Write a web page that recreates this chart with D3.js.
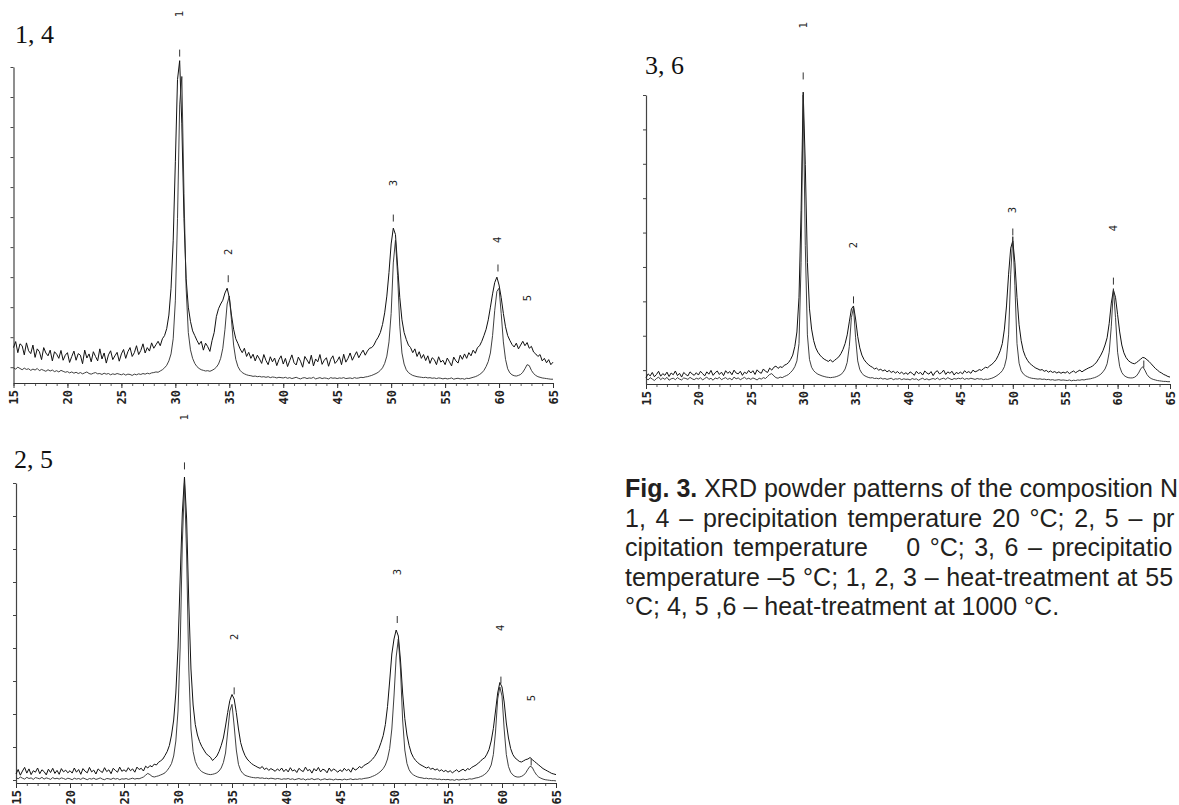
<!DOCTYPE html>
<html>
<head>
<meta charset="utf-8">
<script src="https://cdn.jsdelivr.net/npm/d3@7"></script>
<style>
  html, body { margin: 0; padding: 0; background: #fff; }
  svg { display: block; }
</style>
</head>
<body>
<svg id="fig" width="1179" height="805"></svg>
<script>
// Powder scans: 2θ from 15° to 65°, one reading every 0.2°.
// Intensities are relative counts (1000 = top of the intensity axis).
const scanStart = 15;
const scanStep = 0.2;

const xTickLabels = [15, 20, 25, 30, 35, 40, 45, 50, 55, 60, 65];
const peakNumbers = ["1", "2", "3", "4", "5"];

// Sample 1 (20 °C, 550 °C)
const pattern1 = [
  112, 131, 96, 124, 118, 89, 127, 102, 93, 120, 81, 108, 99, 74, 112, 95, 86, 104, 70, 99, 91, 78, 103, 72, 88,
  96, 65, 84, 101, 72, 93, 88, 61, 104, 79, 92, 67, 99, 84, 70, 108, 76, 95, 63, 89, 102, 74, 86, 97, 69,
  92, 106, 78, 99, 112, 84, 96, 118, 90, 103, 124, 95, 112, 101, 127, 110, 121, 132, 118, 140, 150, 172, 215, 300, 450,
  700, 960, 1020, 820, 520, 330, 240, 195, 165, 150, 135, 122, 132, 104, 126, 115, 100, 134, 160, 210, 235, 250, 262, 285, 300,
  270, 215, 170, 140, 125, 108, 96, 110, 84, 97, 78, 91, 70, 88, 76, 62, 90, 71, 58, 83, 67, 79, 55, 74, 86,
  60, 78, 52, 71, 89, 64, 57, 82, 69, 50, 84, 73, 61, 88, 54, 76, 67, 90, 59, 72, 80, 53, 75, 86, 62,
  70, 83, 58, 91, 66, 78, 95, 72, 86, 99, 80, 93, 104, 88, 101, 110, 112, 120, 134, 145, 160, 185, 222, 275, 350,
  440, 490, 470, 370, 270, 200, 160, 138, 120, 112, 96, 108, 84, 99, 78, 90, 71, 86, 62, 80, 74, 58, 83, 66, 72,
  58, 79, 67, 54, 82, 70, 63, 88, 75, 92, 78, 96, 86, 104, 94, 112, 118, 132, 150, 170, 200, 240, 282, 318, 335,
  310, 270, 220, 178, 150, 135, 122, 114, 126, 108, 120, 132, 118, 128, 110, 116, 98, 92, 84, 90, 70, 78, 64, 74, 58,
  66
];

// Sample 4 (20 °C, 1000 °C)
const pattern4 = [
  48, 44, 50, 46, 42, 47, 43, 45, 40, 44, 41, 46, 39, 43, 40, 37, 42, 38, 41, 36, 39, 35, 40, 37, 34,
  36, 32, 35, 31, 34, 30, 33, 29, 32, 35, 30, 28, 31, 33, 29, 30, 27, 31, 28, 30, 26, 29, 27, 30, 28,
  26, 29, 25, 28, 27, 24, 28, 26, 29, 27, 30, 28, 31, 29, 32, 33, 35, 34, 38, 42, 48, 56, 70, 92, 140,
  260, 520, 880, 970, 600, 300, 160, 105, 78, 62, 52, 46, 42, 40, 38, 39, 37, 40, 44, 50, 60, 78, 110, 170, 250,
  275, 200, 120, 75, 52, 40, 33, 29, 26, 24, 23, 21, 22, 20, 21, 19, 20, 18, 20, 17, 19, 18, 16, 18, 17,
  16, 18, 15, 17, 14, 16, 18, 15, 13, 16, 17, 14, 16, 15, 18, 13, 15, 17, 14, 16, 15, 13, 17, 15, 16,
  14, 16, 15, 17, 14, 15, 16, 14, 17, 15, 16, 18, 17, 19, 20, 22, 24, 27, 30, 34, 40, 48, 62, 85, 130,
  220, 380, 452, 340, 180, 95, 60, 42, 33, 28, 24, 22, 20, 19, 18, 17, 18, 16, 17, 15, 16, 14, 16, 15, 13,
  15, 13, 14, 16, 12, 14, 15, 13, 14, 12, 15, 14, 16, 18, 20, 23, 27, 32, 40, 52, 68, 95, 150, 230, 290,
  300, 220, 130, 75, 45, 32, 26, 23, 22, 24, 27, 34, 45, 58, 55, 40, 30, 24, 20, 18, 16, 15, 14, 13, 12,
  12
];

// Sample 2 (0 °C, 550 °C)
const pattern2 = [
  30, 45, 26, 40, 52, 33, 47, 28, 41, 36, 50, 31, 44, 38, 27, 46, 35, 49, 32, 42, 29, 48, 37, 43, 34,
  41, 33, 50, 36, 45, 29, 48, 39, 34, 52, 37, 43, 30, 47, 40, 35, 51, 38, 44, 31, 49, 42, 36, 53, 39,
  44, 38, 51, 41, 47, 36, 53, 45, 49, 40, 56, 50, 58, 54, 63, 60, 69, 74, 80, 92, 105, 125, 160, 210, 300,
  450, 680, 900, 1020, 880, 600, 380, 260, 195, 160, 138, 122, 110, 98, 92, 86, 75, 82, 90, 105, 125, 150, 190, 235, 275,
  295, 280, 235, 180, 135, 110, 92, 80, 72, 65, 60, 56, 52, 49, 55, 45, 50, 42, 48, 44, 39, 47, 41, 50, 38,
  46, 37, 51, 40, 44, 35, 49, 42, 38, 53, 41, 45, 33, 48, 40, 52, 37, 46, 43, 34, 50, 39, 47, 42, 36,
  44, 38, 49, 41, 46, 36, 51, 43, 47, 55, 50, 58, 62, 66, 72, 79, 88, 100, 115, 135, 158, 195, 255, 340, 430,
  480, 510, 490, 410, 300, 215, 160, 125, 100, 85, 75, 68, 62, 58, 54, 50, 53, 46, 49, 43, 47, 40, 44, 38, 42,
  36, 41, 34, 39, 44, 37, 42, 46, 40, 48, 45, 52, 56, 60, 66, 72, 80, 84, 96, 112, 140, 182, 240, 300, 335,
  320, 270, 200, 150, 115, 95, 84, 78, 72, 70, 74, 78, 80, 85, 78, 72, 66, 60, 54, 48, 44, 40, 36, 32, 30,
  28
];

// Sample 5 (0 °C, 1000 °C)
const pattern5 = [
  18, 14, 20, 16, 13, 19, 15, 17, 12, 18, 16, 14, 19, 13, 17, 15, 12, 18, 14, 16, 13, 17, 15, 12, 16,
  14, 11, 16, 13, 15, 12, 17, 14, 11, 15, 13, 16, 12, 14, 17, 13, 11, 15, 14, 12, 16, 13, 15, 11, 14,
  13, 15, 12, 14, 16, 13, 15, 14, 17, 20, 26, 32, 28, 22, 20, 22, 24, 27, 30, 34, 42, 52, 65, 90, 140,
  240, 450, 800, 1000, 760, 380, 180, 105, 72, 55, 45, 38, 34, 31, 29, 28, 29, 31, 34, 40, 50, 68, 100, 170, 240,
  262, 190, 110, 62, 42, 32, 26, 23, 21, 19, 18, 17, 18, 16, 17, 15, 16, 14, 16, 15, 13, 15, 14, 12, 14,
  13, 15, 12, 14, 11, 13, 15, 12, 14, 10, 13, 12, 15, 11, 13, 14, 10, 12, 14, 11, 13, 12, 10, 13, 11,
  12, 10, 13, 11, 12, 14, 11, 13, 12, 14, 13, 15, 16, 17, 19, 22, 25, 29, 34, 40, 48, 60, 80, 115, 180,
  290, 420, 480, 380, 210, 110, 65, 44, 33, 27, 23, 20, 18, 17, 15, 16, 14, 15, 13, 14, 12, 13, 11, 12, 11,
  12, 10, 11, 9, 12, 10, 11, 13, 11, 12, 14, 13, 15, 17, 18, 21, 24, 29, 35, 45, 60, 95, 170, 280, 320,
  290, 180, 95, 55, 36, 27, 22, 20, 20, 22, 26, 34, 46, 56, 52, 38, 27, 20, 16, 13, 11, 10, 9, 8, 8,
  7
];

// Sample 3 (–5 °C, 550 °C)
const pattern3 = [
  22, 35, 28, 40, 25, 33, 44, 27, 36, 30, 41, 26, 38, 32, 45, 29, 37, 24, 40, 33, 28, 42, 35, 30, 39,
  31, 44, 36, 28, 42, 34, 47, 30, 39, 45, 33, 41, 29, 46, 37, 43, 32, 48, 38, 35, 44, 30, 41, 36, 47,
  38, 46, 33, 49, 41, 37, 52, 44, 40, 55, 48, 58, 62, 54, 60, 57, 65, 68, 74, 85, 100, 130, 180, 300, 600,
  1010, 760, 420, 260, 190, 150, 125, 110, 100, 92, 86, 82, 78, 84, 76, 82, 88, 94, 105, 120, 140, 170, 215, 260, 270,
  225, 165, 125, 100, 85, 75, 68, 62, 58, 52, 55, 48, 51, 45, 49, 42, 47, 40, 44, 38, 43, 36, 41, 34, 39,
  33, 42, 37, 30, 44, 36, 40, 31, 45, 38, 34, 43, 29, 41, 46, 35, 39, 48, 33, 42, 37, 44, 31, 40, 36,
  41, 35, 46, 39, 43, 37, 48, 42, 45, 50, 47, 53, 58, 56, 63, 68, 75, 84, 98, 115, 140, 190, 270, 380, 470,
  495, 420, 300, 205, 150, 115, 95, 82, 72, 66, 60, 55, 52, 48, 50, 44, 47, 41, 45, 40, 43, 38, 42, 37, 41,
  38, 43, 36, 41, 45, 39, 44, 48, 42, 47, 51, 55, 58, 62, 68, 76, 88, 100, 115, 135, 160, 210, 280, 325, 300,
  240, 180, 135, 108, 92, 82, 76, 72, 70, 74, 80, 86, 92, 90, 84, 78, 70, 62, 54, 48, 42, 38, 33, 30, 26,
  24
];

// Sample 6 (–5 °C, 1000 °C)
const pattern6 = [
  20, 14, 22, 17, 12, 19, 24, 15, 21, 16, 23, 13, 18, 20, 15, 22, 17, 14, 21, 19, 16, 23, 18, 15, 20,
  17, 22, 14, 19, 24, 16, 20, 13, 21, 18, 23, 15, 19, 22, 16, 20, 14, 24, 18, 21, 15, 19, 23, 17, 20,
  16, 21, 18, 14, 20, 17, 22, 19, 26, 33, 36, 28, 22, 20, 24, 22, 26, 29, 33, 40, 48, 60, 80, 140, 420,
  1000, 480, 170, 85, 58, 46, 39, 34, 31, 28, 26, 24, 23, 22, 23, 24, 26, 29, 33, 40, 52, 75, 130, 230, 265,
  160, 80, 50, 37, 30, 26, 23, 21, 22, 19, 20, 18, 21, 17, 19, 16, 18, 20, 15, 18, 17, 19, 15, 18, 16,
  17, 14, 19, 16, 18, 13, 17, 20, 15, 18, 14, 17, 19, 16, 21, 15, 18, 20, 16, 22, 18, 15, 19, 17, 20,
  18, 21, 16, 19, 17, 20, 18, 16, 19, 17, 18, 15, 17, 16, 18, 20, 23, 27, 32, 38, 46, 60, 90, 170, 380,
  510, 340, 140, 72, 46, 35, 29, 25, 22, 20, 19, 18, 17, 18, 16, 17, 15, 16, 14, 15, 13, 14, 15, 13, 14,
  13, 12, 14, 11, 13, 12, 14, 13, 15, 14, 16, 17, 18, 20, 22, 25, 29, 34, 42, 52, 70, 110, 200, 330, 230,
  110, 60, 40, 30, 25, 22, 21, 21, 23, 28, 38, 52, 60, 48, 33, 24, 19, 16, 14, 12, 11, 10, 9, 9, 8,
  8
];

// Reflection markers: 2θ of each numbered reflection, height of its tick, height of its number
const peakAngles14 = [30.4, 34.9, 50.2, 59.9, 62.6];
const peakMarks14  = [1044, 330, 522, 364, null];
const peakText14   = [1168, 415, 633, 453, 269];

const peakAngles25 = [30.6, 35.2, 50.3, 59.9, 62.7];
const peakMarks25  = [1057, 307, 545, 343, 70];
const peakText25   = [1220, 487, 703, 517, 283];

const peakAngles36 = [30.0, 34.8, 50.0, 59.6, 62.5];
const peakMarks36  = [1066, 291, 526, 356, 69];
const peakText36   = [1242, 481, 602, 540, null];

const captionLines = [
  { bold: "Fig. 3.", text: " XRD powder patterns of the composition N", spacing: 0 },
  { bold: "", text: "1, 4 – precipitation temperature 20 °C; 2, 5 – pr", spacing: 2.8 },
  { bold: "", text: "cipitation temperature    0 °C; 3, 6 – precipitatio", spacing: 2.6 },
  { bold: "", text: "temperature –5 °C; 1, 2, 3 – heat-treatment at 55", spacing: 0.8 },
  { bold: "", text: "°C; 4, 5 ,6 – heat-treatment at 1000 °C.", spacing: 0 }
];

const panels = [
  { title: "1, 4", series: [pattern1, pattern4],
    angles: peakAngles14, marks: peakMarks14, texts: peakText14,
    left: 13.5, right: 553, bottom: 383, top: 67, yTickStep: 95,
    titleX: 15, titleY: 43 },
  { title: "2, 5", series: [pattern2, pattern5],
    angles: peakAngles25, marks: peakMarks25, texts: peakText25,
    left: 16, right: 556, bottom: 783, top: 483, yTickStep: 110,
    titleX: 14, titleY: 468 },
  { title: "3, 6", series: [pattern3, pattern6],
    angles: peakAngles36, marks: peakMarks36, texts: peakText36,
    left: 646, right: 1170, bottom: 384, top: 95, yTickStep: 119,
    titleX: 645, titleY: 74 }
];

const svg = d3.select("#fig");
svg.append("rect").attr("width", 1179).attr("height", 805).attr("fill", "#fff");

panels.forEach(p => {
  const g = svg.append("g");
  const x = d3.scaleLinear().domain([15, 65]).range([p.left, p.right]);
  const y = d3.scaleLinear().domain([0, 1000]).range([p.bottom, p.top]);

  // minor 2θ ticks every degree
  g.append("g")
    .attr("transform", `translate(0,${p.bottom})`)
    .call(d3.axisBottom(x).tickValues(d3.range(15, 66, 1)).tickSize(3).tickFormat(""))
    .call(a => a.select(".domain").remove())
    .call(a => a.selectAll("line").attr("stroke", "#333").attr("stroke-width", 0.8));

  // labelled 2θ axis
  const xa = g.append("g")
    .attr("transform", `translate(0,${p.bottom})`)
    .call(d3.axisBottom(x).tickValues(xTickLabels).tickSize(5).tickSizeOuter(0).tickFormat(d3.format("d")));
  xa.select(".domain").attr("stroke", "#333").attr("stroke-width", 1);
  xa.selectAll("line").attr("stroke", "#333");
  xa.selectAll("text")
    .attr("transform", "rotate(-90)")
    .attr("text-anchor", "end")
    .attr("x", -7).attr("y", 0).attr("dy", "0.36em")
    .attr("font-family", "'DejaVu Sans Mono', monospace")
    .attr("font-size", 12).attr("font-weight", "bold")
    .attr("fill", "#222");

  // intensity axis (unlabelled)
  const ya = g.append("g")
    .attr("transform", `translate(${p.left},0)`)
    .call(d3.axisLeft(y).tickValues(d3.range(1000, 0, -p.yTickStep)).tickSize(3).tickSizeOuter(0).tickFormat(""));
  ya.select(".domain").attr("stroke", "#444").attr("stroke-width", 1.2);
  ya.selectAll("line").attr("stroke", "#444");

  // the two scans
  const line = d3.line()
    .x((d, i) => x(scanStart + i * scanStep))
    .y(d => y(d));
  p.series.forEach((s, k) => {
    g.append("path")
      .datum(s)
      .attr("fill", "none")
      .attr("stroke", k === 0 ? "#111" : "#2a2a2a")
      .attr("stroke-width", k === 0 ? 1.0 : 0.9)
      .attr("stroke-linejoin", "round")
      .attr("d", line);
  });

  // reflection ticks and numbers
  p.angles.forEach((a, i) => {
    if (p.marks[i] != null) {
      g.append("line")
        .attr("x1", x(a)).attr("x2", x(a))
        .attr("y1", y(p.marks[i]) - 3.5).attr("y2", y(p.marks[i]) + 3.5)
        .attr("stroke", "#333").attr("stroke-width", 1);
    }
    if (p.texts[i] != null) {
      g.append("text")
        .attr("transform", `translate(${x(a) + 3.5},${y(p.texts[i])}) rotate(-90)`)
        .attr("text-anchor", "middle")
        .attr("font-family", "'DejaVu Sans', sans-serif")
        .attr("font-size", 10)
        .attr("fill", "#222")
        .text(peakNumbers[i]);
    }
  });

  // sample numbers
  svg.append("text")
    .attr("x", p.titleX).attr("y", p.titleY)
    .attr("font-family", "'Liberation Serif', 'Times New Roman', serif")
    .attr("font-size", 26)
    .attr("fill", "#111")
    .text(p.title);
});

// caption
const cap = svg.append("g")
  .attr("font-family", "'Liberation Sans', Arial, sans-serif")
  .attr("font-size", 25)
  .attr("fill", "#231f20");
captionLines.forEach((c, i) => {
  const t = cap.append("text")
    .attr("x", 625).attr("y", 497 + i * 29.5)
    .attr("word-spacing", c.spacing)
    .style("white-space", "pre");
  if (c.bold) t.append("tspan").attr("font-weight", "bold").text(c.bold);
  t.append("tspan").text(c.text);
});
</script>
</body>
</html>
